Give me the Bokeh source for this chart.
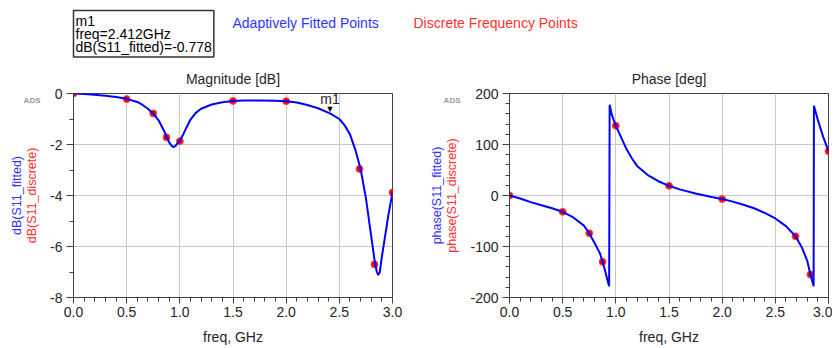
from bokeh.plotting import figure
from bokeh.models import Range1d, LinearAxis, FixedTicker, SingleIntervalTicker, Label, NumeralTickFormatter
from bokeh.layouts import column, row
from bokeh.embed import file_html
from bokeh.resources import INLINE

# ---------------- data ----------------
freq_discrete = [0.0, 0.5, 0.75, 0.875, 1.0, 1.5, 2.0, 2.69, 2.83, 3.0]
db_discrete = [0.0, -0.22, -0.78, -1.72, -1.87, -0.29, -0.30, -2.96, -6.70, -3.88]
phase_discrete = [0, -32, -74, -130, 137, 19, -7, -80, -155, 87]

freq_fit_mag = [0.0, 0.1, 0.2, 0.3, 0.4, 0.5, 0.6, 0.65, 0.7, 0.75, 0.8, 0.85, 0.875,
                0.9, 0.925, 0.94, 0.96, 0.98, 1.0, 1.03, 1.06, 1.1, 1.15, 1.2, 1.3,
                1.4, 1.5, 1.6, 1.75, 1.9, 2.0, 2.1, 2.2, 2.3, 2.412, 2.5, 2.55, 2.6,
                2.65, 2.7, 2.75, 2.8, 2.83, 2.85, 2.865, 2.88, 2.9, 2.93, 2.96, 3.0]
db_fitted = [0.0, -0.02, -0.05, -0.09, -0.14, -0.21, -0.33, -0.45, -0.6, -0.79, -1.05,
             -1.45, -1.7, -1.92, -2.06, -2.1, -2.05, -1.95, -1.85, -1.62, -1.35, -1.02,
             -0.76, -0.6, -0.43, -0.34, -0.29, -0.27, -0.27, -0.28, -0.3, -0.35, -0.45,
             -0.58, -0.778, -1.0, -1.25, -1.6, -2.2, -2.96, -4.1, -5.6, -6.5, -6.95,
             -7.12, -7.02, -6.4, -5.6, -4.8, -3.88]

freq_fit_phase = [0.0, 0.1, 0.2, 0.3, 0.4, 0.5, 0.6, 0.7, 0.75, 0.8, 0.85, 0.875, 0.9,
                  0.92, 0.937, 0.942, 0.96, 0.98, 1.0, 1.05, 1.1, 1.15, 1.2, 1.3, 1.4,
                  1.5, 1.6, 1.75, 1.9, 2.0, 2.1, 2.2, 2.3, 2.4, 2.5, 2.6, 2.69, 2.75,
                  2.8, 2.83, 2.86, 2.863, 2.9, 2.95, 3.0]
phase_fitted = [0, -6, -13, -19, -25, -32, -43, -59, -74, -93, -113, -130, -148, -165,
                -178, 178, 160, 148, 137, 114, 91, 73, 58, 40, 28, 19, 12, 4, -3, -7,
                -12, -18, -25, -34, -45, -60, -80, -102, -128, -155, -178, 176, 148,
                115, 87]

m1_freq = 2.412
m1_db = -0.778

x_ticks_major = 0.5
FONT = "Liberation Sans"
BLUE = "#0000ff"
BLUE_TXT = "#3333ff"
RED = "#ff0000"
RED_TXT = "#ff3030"
TXT = "#262626"
PLOT_H = 287


def make_plot(title, lab_fit, lab_disc, y0, y1, y_int, y_minor, fx, fy, dy,
              width, mbl, mbr, ads_y):
    p = figure(width=width, height=PLOT_H, x_range=Range1d(0, 3), y_range=Range1d(y0, y1),
               output_backend="svg", toolbar_location=None,
               min_border_left=mbl, min_border_right=mbr,
               min_border_top=33, min_border_bottom=49)
    p.title.text = title
    p.title.align = "center"
    p.title.text_font = FONT
    p.title.text_font_size = "14px"
    p.title.text_font_style = "normal"
    p.title.text_color = TXT
    p.title.standoff = 14

    p.xaxis.ticker = SingleIntervalTicker(interval=x_ticks_major, num_minor_ticks=5)
    p.xaxis.formatter = NumeralTickFormatter(format="0.0")
    p.yaxis.ticker = SingleIntervalTicker(interval=y_int, num_minor_ticks=y_minor)
    p.yaxis.formatter = NumeralTickFormatter(format="0")
    p.xaxis.axis_label = "freq, GHz"
    p.xaxis.axis_label_standoff = 9
    p.yaxis.axis_label = lab_disc
    p.yaxis.axis_label_text_color = RED_TXT
    p.yaxis.axis_label_standoff = 8
    p.yaxis.axis_label_text_font_size = "12.5px"
    p.xaxis.axis_label_text_font_size = "14px"
    p.xaxis.axis_label_text_color = TXT
    for ax in (p.xaxis, p.yaxis):
        ax.axis_label_text_font = FONT
        ax.axis_label_text_font_style = "normal"
        ax.major_label_text_font = FONT
        ax.major_label_text_font_size = "14px"
        ax.major_label_text_color = TXT
        ax.axis_line_color = "#404040"
        ax.major_tick_line_color = "#404040"
        ax.minor_tick_line_color = "#404040"
        ax.major_tick_in = 0
        ax.minor_tick_in = 0
        ax.minor_tick_out = 4
    p.xaxis.major_tick_out = 6
    p.xaxis.major_label_standoff = 3
    p.yaxis.major_tick_out = 7
    p.yaxis.major_label_standoff = 4

    # outer axis: carries the blue label and the small "ADS" tag
    extra = LinearAxis(ticker=FixedTicker(ticks=[ads_y]),
                       major_label_overrides={ads_y: "ADS"},
                       axis_label=lab_fit,
                       axis_line_color=None, major_tick_out=0, minor_tick_out=0,
                       major_tick_in=0, minor_tick_in=0, major_label_standoff=-18,
                       major_label_text_font=FONT, major_label_text_font_size="8px",
                       major_label_text_font_style="bold", major_label_text_color="#9a9a9a",
                       axis_label_standoff=-3, axis_label_text_color=BLUE_TXT,
                       axis_label_text_font=FONT, axis_label_text_font_size="12.5px",
                       axis_label_text_font_style="normal")
    p.add_layout(extra, "left")

    p.grid.grid_line_color = "#c8c8c8"
    p.grid.grid_line_width = 1
    p.outline_line_color = "#404040"
    p.outline_line_width = 1

    p.scatter(freq_discrete, dy, size=7, fill_color=RED, line_color="#ff5050")
    p.line(fx, fy, line_color=BLUE, line_width=2)
    return p


left = make_plot("Magnitude [dB]", "dB(S11_fitted)", "dB(S11_discrete)", -8, 0, 2, 2,
                 freq_fit_mag, db_fitted, db_discrete, 420, 73, 28, -0.27)
right = make_plot("Phase [deg]", "phase(S11_fitted)", "phase(S11_discrete)", -200, 200, 100, 5,
                  freq_fit_phase, phase_fitted, phase_discrete, 412, 89, 4, 186)

# marker m1
left.text([m1_freq], [m1_db], text=["\u25bc"], text_align="center", text_baseline="bottom",
          text_font_size="9px", text_color="black", y_offset=1)
left.text([m1_freq], [m1_db], text=["m1"], text_align="center", text_baseline="bottom",
          text_font_size="14px", text_color=TXT, y_offset=-6)

# banner with marker readout and legend
banner = figure(width=832, height=60, x_range=Range1d(0, 832), y_range=Range1d(0, 60),
                output_backend="svg", toolbar_location=None, min_border=0)
banner.axis.visible = False
banner.grid.visible = False
banner.outline_line_color = None
banner.add_layout(Label(x=73, y=50, text="m1\nfreq=%.3fGHz\ndB(S11_fitted)=%.3f" % (m1_freq, m1_db),
                        text_align="left", text_baseline="top", text_font=FONT,
                        text_font_size="14px", text_line_height=0.83, text_color="black",
                        border_line_color="#333333", border_line_width=1.5,
                        background_fill_color="white", padding=2))
banner.add_layout(Label(x=232, y=38, text="Adaptively Fitted Points", text_font=FONT,
                        text_font_size="14px", text_color=BLUE_TXT, text_baseline="middle"))
banner.add_layout(Label(x=413, y=38, text="Discrete Frequency Points", text_font=FONT,
                        text_font_size="14px", text_color=RED_TXT, text_baseline="middle"))

layout = column(banner, row(left, right))
open("out.html", "w").write(file_html(layout, INLINE))
